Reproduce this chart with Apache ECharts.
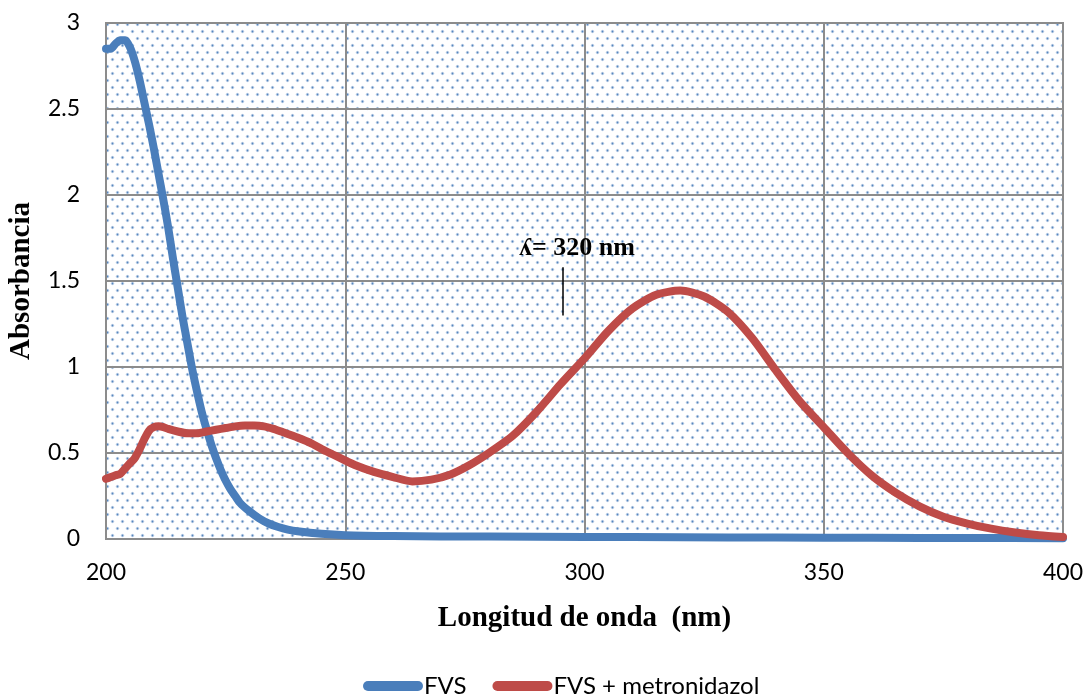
<!DOCTYPE html>
<html>
<head>
<meta charset="utf-8">
<script src="https://cdn.jsdelivr.net/npm/echarts@6/dist/echarts.min.js"></script>
<style>html,body{margin:0;padding:0;background:#fff}#c{width:1084px;height:696px}</style>
</head>
<body>
<div id="c"></div>
<script>
// Wavelength (nm) and absorbance values
const fvsX = [200,201,202,203,204,205,206,207,208,209,210,211,212,213,214,215,216,217,218,219,220,221,222,223,224,225,226,227,228,230,232,234,236,238,240,245,250,260,270,280,300,320,340,360,380,400];
const fvsY = [2.85,2.85,2.88,2.9,2.9,2.86,2.78,2.67,2.54,2.41,2.27,2.12,1.97,1.81,1.63,1.46,1.29,1.14,0.99,0.86,0.74,0.64,0.55,0.47,0.4,0.34,0.29,0.25,0.21,0.16,0.12,0.09,0.07,0.055,0.045,0.03,0.022,0.017,0.015,0.014,0.012,0.01,0.008,0.007,0.006,0.005];

const mixX = [200,201,202,203,204,205,206,207,208,209,210,211,212,213,215,217,219,221,223,225,227,229,231,233,235,237,240,243,246,249,252,256,260,264,268,272,276,280,285,290,295,300,305,310,315,320,325,330,335,340,345,350,355,360,365,370,375,380,385,390,395,400];
const mixY = [0.35,0.36,0.37,0.38,0.41,0.44,0.47,0.52,0.58,0.63,0.65,0.655,0.65,0.64,0.625,0.615,0.615,0.625,0.635,0.645,0.655,0.66,0.66,0.655,0.64,0.62,0.59,0.555,0.51,0.47,0.43,0.39,0.36,0.335,0.345,0.375,0.43,0.5,0.6,0.74,0.9,1.05,1.21,1.34,1.42,1.445,1.41,1.32,1.17,0.98,0.8,0.65,0.5,0.37,0.27,0.19,0.13,0.09,0.06,0.038,0.022,0.012];

const seriesNames = ['FVS', 'FVS + metronidazol'];
const yTicks = [0, 0.5, 1, 1.5, 2, 2.5, 3];
const xTicks = [200, 250, 300, 350, 400];
const annotationText = 'ʎ= 320 nm';
const annotationLabelPos = [298.4, 1.69];
const annotationLine = [[295.5, 1.30], [295.5, 1.58]];

function pairs(xs, ys) { return xs.map((x, i) => [x, ys[i]]); }

// dotted background tile
const tile = document.createElement('canvas');
tile.width = 10; tile.height = 14;
const tc = tile.getContext('2d');
function dot(x, y) {
  tc.fillStyle = 'rgba(74,126,187,0.28)';
  tc.beginPath(); tc.arc(x, y, 1.8, 0, Math.PI * 2); tc.fill();
  tc.fillStyle = 'rgba(74,126,187,0.9)';
  tc.beginPath(); tc.arc(x, y, 0.9, 0, Math.PI * 2); tc.fill();
}
dot(2.5, 3.5); dot(7.5, 10.5);

const chart = echarts.init(document.getElementById('c'), null, { renderer: 'canvas' });
const axisFont = 'Lato, "Open Sans", sans-serif';
const serifBold = { fontFamily: '"Liberation Serif", serif', fontWeight: 'bold', fontSize: 29, color: '#000' };
chart.setOption({
  animation: false,
  grid: {
    left: 106, right: 21, top: 23, bottom: 157,
    outerBoundsMode: 'none',
    show: true,
    backgroundColor: { image: tile, repeat: 'repeat' },
    borderColor: '#8c8c8c', borderWidth: 2
  },
  xAxis: {
    type: 'value', min: 200, max: 400, interval: 50,
    name: 'Longitud de onda  (nm)', nameLocation: 'middle', nameGap: 65,
    nameTextStyle: serifBold,
    axisLine: { show: true, lineStyle: { color: '#8c8c8c', width: 2 } },
    axisTick: { show: false },
    axisLabel: { fontFamily: axisFont, fontSize: 23, color: '#000', margin: 22,
      formatter: v => xTicks.includes(v) ? String(v) : '' },
    splitLine: { show: true, lineStyle: { color: '#8c8c8c', width: 2 } }
  },
  yAxis: {
    type: 'value', min: 0, max: 3, interval: 0.5,
    name: 'Absorbancia', nameLocation: 'middle', nameGap: 70,
    nameTextStyle: serifBold,
    axisLine: { show: true, lineStyle: { color: '#8c8c8c', width: 2 } },
    axisTick: { show: false },
    axisLabel: { fontFamily: axisFont, fontSize: 23, color: '#000', margin: 26,
      formatter: v => yTicks.includes(v) ? String(v) : '' },
    splitLine: { show: true, lineStyle: { color: '#8c8c8c', width: 2 } }
  },
  legend: {
    top: 669, left: 358,
    itemWidth: 60, itemHeight: 10, itemGap: 26,
    icon: 'path://M5,0 L55,0 A5,5 0 0 1 55,10 L5,10 A5,5 0 0 1 5,0 Z',
    textStyle: { fontFamily: axisFont, fontSize: 24, color: '#000', padding: [0, 0, 0, -4] },
    data: seriesNames
  },
  series: [
    {
      name: seriesNames[0], type: 'line', showSymbol: false, smooth: 0.25,
      color: '#4A7EBB',
      lineStyle: { width: 8, color: '#4A7EBB', cap: 'round', join: 'round' },
      data: pairs(fvsX, fvsY), z: 3
    },
    {
      name: seriesNames[1], type: 'line', showSymbol: false, smooth: 0.25,
      color: '#BE4B48',
      lineStyle: { width: 8, color: '#BE4B48', cap: 'round', join: 'round' },
      data: pairs(mixX, mixY), z: 4,
      markLine: {
        silent: true, symbol: 'none', animation: false,
        lineStyle: { color: '#000', width: 1.5, type: 'solid' },
        label: { show: false },
        data: [[{ coord: annotationLine[0] }, { coord: annotationLine[1] }]]
      },
      markPoint: {
        silent: true, symbol: 'circle', symbolSize: 0,
        label: { show: true, formatter: annotationText, position: 'inside',
          fontFamily: '"Liberation Serif", serif', fontWeight: 'bold', fontSize: 26, color: '#000' },
        data: [{ coord: annotationLabelPos }]
      }
    }
  ]
});
</script>
</body>
</html>
